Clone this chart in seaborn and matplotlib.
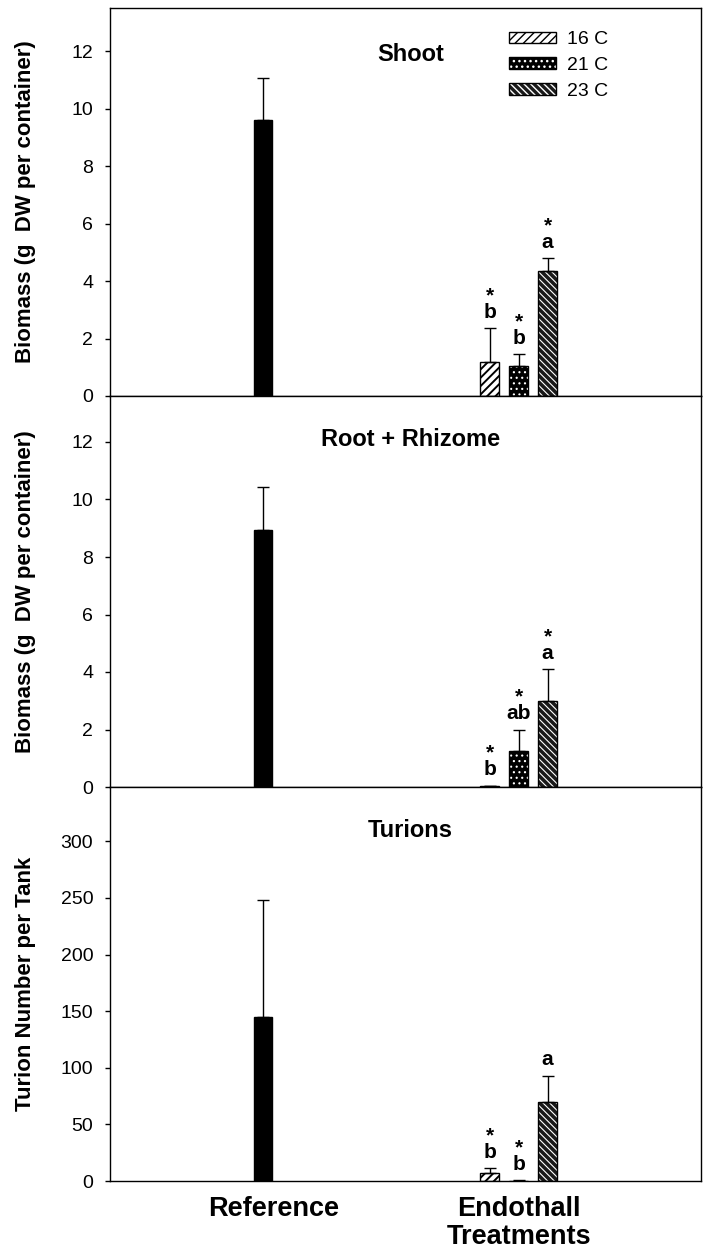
import numpy as np
import pandas as pd
import matplotlib
matplotlib.use("Agg")
import matplotlib.pyplot as plt
import matplotlib.transforms as mtransforms
from matplotlib.patches import Rectangle
from matplotlib.legend_handler import HandlerTuple
import seaborn as sns

# ---------------- data ----------------
groups = ["Reference", "Endothall\nTreatments"]
temps = ["16 C", "21 C", "23 C"]

shoot_ref = [9.6]
shoot_ref_err = [1.45]
shoot_trt = [1.2, 1.05, 4.35]
shoot_trt_err = [1.15, 0.4, 0.45]
shoot_letters = ["b", "b", "a"]
shoot_stars = ["*", "*", "*"]

root_ref = [8.95]
root_ref_err = [1.5]
root_trt = [0.02, 1.25, 3.0]
root_trt_err = [0.03, 0.75, 1.1]
root_letters = ["b", "ab", "a"]
root_stars = ["*", "*", "*"]

turion_ref = [145]
turion_ref_err = [103]
turion_trt = [7, 0, 70]
turion_trt_err = [4.5, 0.5, 23]
turion_letters = ["b", "b", "a"]
turion_stars = ["*", "*", ""]

panel_titles = ["Shoot", "Root + Rhizome", "Turions"]
panel_ylabels = ["Biomass (g  DW per container)", "Biomass (g  DW per container)",
                 "Turion Number per Tank"]
panel_ymax = [13.5, 13.6, 348]
panel_yticks = [np.arange(0, 13, 2), np.arange(0, 13, 2), np.arange(0, 301, 50)]

# ---------------- style ----------------
sns.set_style("ticks")
plt.rcParams["font.family"] = ["Liberation Sans", "DejaVu Sans"]
plt.rcParams["hatch.linewidth"] = 1.0
plt.rcParams["axes.linewidth"] = 1.0
for k in ["text.color", "axes.labelcolor", "xtick.color", "ytick.color", "axes.edgecolor"]:
    plt.rcParams[k] = "black"

DPI = 100
fig = plt.figure(figsize=(7.07, 12.51), dpi=DPI)
H = 1251.0
W = 707.0
left = 110 / W
width = (701 - 110) / W
bounds_px = [(8, 396), (396, 787), (787, 1181)]
title_y = [0.879, 0.89, 0.89]
axes = []
for top, bot in bounds_px:
    axes.append(fig.add_axes([left, 1 - bot / H, width, (bot - top) / H]))

BAR_W = 0.0724
GROUP_W = 0.34
GAP = 0.362

hatch_specs = [
    dict(face="white", hatch="////", hcol="black", hlw=1.4),
    dict(face="black", hatch="...", hcol="white", hlw=0.8),
    dict(face="#1a1a1a", hatch="\\\\\\\\\\", hcol="white", hlw=0.8),
]


def style_hatch(p, spec):
    p.set_facecolor(spec["face"])
    p.set_hatch(spec["hatch"])
    p.set_edgecolor(spec["hcol"])
    p.set_linewidth(0)
    if hasattr(p, "set_hatch_linewidth"):
        p.set_hatch_linewidth(spec["hlw"])


panels = [
    (shoot_ref, shoot_ref_err, shoot_trt, shoot_trt_err, shoot_letters, shoot_stars),
    (root_ref, root_ref_err, root_trt, root_trt_err, root_letters, root_stars),
    (turion_ref, turion_ref_err, turion_trt, turion_trt_err, turion_letters, turion_stars),
]

legend_handles = []
for i, (ax, (ref, ref_err, trt, trt_err, letters, stars)) in enumerate(zip(axes, panels)):
    ref_df = pd.DataFrame({"group": [groups[0]], "value": ref})
    sns.barplot(data=ref_df, x="group", y="value", order=groups, color="black",
                width=BAR_W, errorbar=None, saturation=1, ax=ax)
    n0 = len(ax.patches)
    trt_df = pd.DataFrame({"group": [groups[1]] * len(temps), "temp": temps, "value": trt})
    sns.barplot(data=trt_df, x="group", y="value", hue="temp", order=groups,
                hue_order=temps, palette=["white", "black", "black"], width=GROUP_W,
                gap=GAP, dodge=True, errorbar=None, saturation=1, legend=False, ax=ax)
    ref_patch = ax.patches[0]
    trt_patches = sorted(ax.patches[n0:n0 + len(temps)], key=lambda p: p.get_x())

    ref_patch.set_facecolor("black")
    ref_patch.set_edgecolor("black")
    ref_patch.set_linewidth(1)

    for p, spec in zip(trt_patches, hatch_specs):
        style_hatch(p, spec)
        outline = Rectangle((p.get_x(), p.get_y()), p.get_width(), p.get_height(),
                            fill=False, edgecolor="black", linewidth=1,
                            zorder=p.get_zorder() + 0.1)
        ax.add_patch(outline)
        if i == 0:
            hp = Rectangle((0, 0), 1, 1)
            style_hatch(hp, spec)
            op = Rectangle((0, 0), 1, 1, fill=False, edgecolor="black", linewidth=1)
            legend_handles.append((hp, op))

    # error bars (upper only)
    xs = [ref_patch.get_x() + ref_patch.get_width() / 2] + \
         [p.get_x() + p.get_width() / 2 for p in trt_patches]
    ys = list(ref) + list(trt)
    errs = list(ref_err) + list(trt_err)
    ax.errorbar(xs, ys, yerr=[np.zeros(len(errs)), errs], fmt="none", ecolor="black",
                elinewidth=1, capsize=4, capthick=1, zorder=5)

    # significance annotations (star above letter, one text block)
    for x, y, e, let, st in zip(xs[1:], trt, trt_err, letters, stars):
        label = f"{st}\n{let}" if st else let
        ax.annotate(label, (x, y + e), xytext=(0, 4.5), textcoords="offset points",
                    ha="center", va="bottom", ma="center", fontsize=15,
                    fontweight="bold", linespacing=0.85)

    ax.set_xlim(-0.599, 1.714)
    ax.set_ylim(0, panel_ymax[i])
    ax.set_yticks(panel_yticks[i])
    ax.tick_params(axis="y", direction="out", length=3.6, width=1, pad=8.5,
                   labelsize=14, colors="black")
    ax.set_ylabel(panel_ylabels[i], fontsize=16, fontweight="bold")
    ax.yaxis.set_label_coords(-0.125, 0.5)
    ax.set_xlabel("")
    for s in ax.spines.values():
        s.set_visible(True)
        s.set_color("black")
        s.set_linewidth(1)
    ax.text(0.508, title_y[i], panel_titles[i], transform=ax.transAxes, ha="center",
            va="center", fontsize=17, fontweight="bold")
    if i < 2:
        ax.set_xticks([])
    else:
        ax.set_xticks([0, 1])
        ax.set_xticklabels(groups, fontsize=19.5, fontweight="bold", linespacing=1.1)
        ax.tick_params(axis="x", length=0, pad=11)
        lab = ax.get_xticklabels()[0]
        lab.set_transform(lab.get_transform() +
                          mtransforms.ScaledTranslation(11 / DPI, 0, fig.dpi_scale_trans))

axes[0].legend(legend_handles, temps, handler_map={tuple: HandlerTuple(ndivide=1, pad=0)},
               loc="upper left", bbox_to_anchor=(0.675, 0.94), frameon=False,
               fontsize=14, handlelength=2.4, handleheight=0.55, handletextpad=0.6,
               labelspacing=0.45, borderpad=0, borderaxespad=0)

fig.savefig("out.png", dpi=DPI, facecolor="white")
